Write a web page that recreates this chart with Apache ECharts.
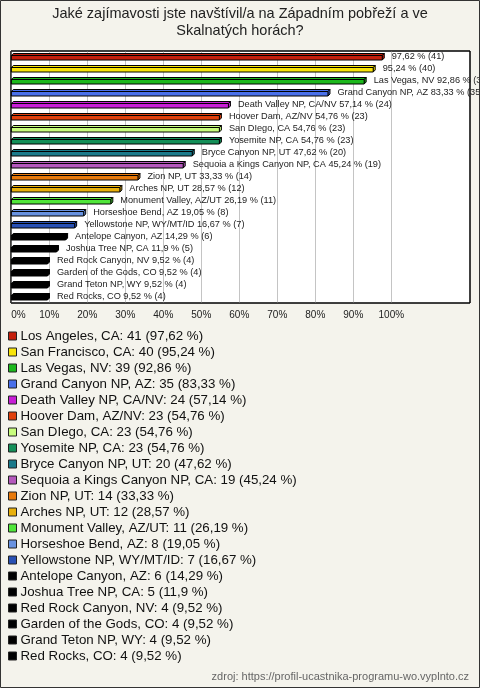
<!DOCTYPE html>
<html>
<head>
<meta charset="utf-8">
<script src="https://cdn.jsdelivr.net/npm/echarts@6/dist/echarts.min.js"></script>
<style>
html,body{margin:0;padding:0;background:#f4f3ec;}
#chart{width:480px;height:688px;}
</style>
</head>
<body>
<div id="chart"></div>
<script>
const names = [
  "Los Angeles, CA", "San Francisco, CA", "Las Vegas, NV", "Grand Canyon NP, AZ",
  "Death Valley NP, CA/NV", "Hoover Dam, AZ/NV", "San DIego, CA", "Yosemite NP, CA",
  "Bryce Canyon NP, UT", "Sequoia a Kings Canyon NP, CA", "Zion NP, UT", "Arches NP, UT",
  "Monument Valley, AZ/UT", "Horseshoe Bend, AZ", "Yellowstone NP, WY/MT/ID",
  "Antelope Canyon, AZ", "Joshua Tree NP, CA", "Red Rock Canyon, NV",
  "Garden of the Gods, CO", "Grand Teton NP, WY", "Red Rocks, CO"
];
const counts = [41, 40, 39, 35, 24, 23, 23, 23, 20, 19, 14, 12, 11, 8, 7, 6, 5, 4, 4, 4, 4];
const percents = [97.62, 95.24, 92.86, 83.33, 57.14, 54.76, 54.76, 54.76, 47.62, 45.24,
  33.33, 28.57, 26.19, 19.05, 16.67, 14.29, 11.9, 9.52, 9.52, 9.52, 9.52];
const tickValues = [0, 10, 20, 30, 40, 50, 60, 70, 80, 90, 100];
const titleText = "Jaké zajímavosti jste navštívil/a na Západním pobřeží a ve\nSkalnatých horách?";
const sourceText = "zdroj: https://profil-ucastnika-programu-wo.vyplnto.cz";

const colors = [
  "#c41f0c", "#f8e40a", "#1cb81c", "#4a70ea", "#c81ed6", "#e0400c", "#c8fc7c",
  "#148f58", "#1a7a8a", "#b458bc", "#e87a0c", "#e8b00c", "#50e63a", "#6892e0",
  "#2850b4", "#000000", "#000000", "#000000", "#000000", "#000000", "#000000"
];
const FONT = '"Liberation Sans", Arial, sans-serif';

function fmt(p) { return String(p).replace('.', ','); }

const chart = echarts.init(document.getElementById('chart'), null, {renderer: 'canvas'});

const series = names.map((n, i) => ({
  name: n + ': ' + counts[i] + ' (' + fmt(percents[i]) + ' %)',
  type: 'custom',
  itemStyle: {color: colors[i]},
  data: [[percents[i], i]],
  renderItem: function (params, api) {
    const v = api.value(0), c = api.value(1);
    const p0 = api.coord([0, c]);
    const p1 = api.coord([v, c]);
    const cy = p0[1];
    const x0 = p0[0], x1 = p1[0];
    const d = 2;
    const yT = cy - 1.5, yB = cy + 3;
    const col = api.visual('color');
    const label = (i < 2 ? '' : names[i] + ' ') + fmt(percents[i]) + ' % (' + counts[i] + ')';
    return {
      type: 'group',
      children: [
        {type: 'polygon', shape: {points: [[x0, yT], [x0 + d, yT - d], [x1 + d, yT - d], [x1, yT]]},
          style: {fill: col, stroke: '#000', lineWidth: 1}},
        {type: 'polygon', shape: {points: [[x1, yT], [x1 + d, yT - d], [x1 + d, yB - d], [x1, yB]]},
          style: {fill: col, stroke: '#000', lineWidth: 1}},
        {type: 'rect', shape: {x: x0, y: yT, width: x1 - x0, height: yB - yT},
          style: {fill: col, stroke: '#000', lineWidth: 1}},
        {type: 'text', style: {text: label, x: x1 + 9.5, y: cy - 1, verticalAlign: 'middle',
          align: 'left', font: '9.2px ' + FONT, fill: '#222'}}
      ]
    };
  }
}));

chart.setOption({
  backgroundColor: '#f4f3ec',
  animation: false,
  textStyle: {fontFamily: FONT},
  title: {
    text: titleText,
    left: 'center',
    top: 0,
    padding: [5.5, 0, 0, 0],
    textStyle: {fontSize: 14.5, fontWeight: 'normal', color: '#222', lineHeight: 17, fontFamily: FONT}
  },
  grid: {left: 11.3, right: 480 - 391.3, top: 51, bottom: 688 - 303, containLabel: false},
  xAxis: {
    type: 'value', min: tickValues[0], max: tickValues[tickValues.length - 1], interval: 10,
    axisLine: {show: false}, axisTick: {show: false},
    splitLine: {show: true, lineStyle: {color: '#c4c4c4', width: 1}},
    axisLabel: {formatter: '{value}%', fontSize: 10, color: '#222', margin: 7, fontFamily: FONT,
      alignMinLabel: 'left'}
  },
  yAxis: {
    type: 'category', data: names, inverse: true,
    axisLine: {show: false}, axisTick: {show: false}, axisLabel: {show: false}, splitLine: {show: false}
  },
  legend: {
    orient: 'vertical', left: 8, top: 328, padding: 0, itemGap: 0,
    itemWidth: 8, itemHeight: 8, icon: 'rect',
    itemStyle: {borderColor: '#222', borderWidth: 1},
    textStyle: {fontSize: 13.3, color: '#111', lineHeight: 16, fontFamily: FONT, padding: [0, 0, 0, -1]},
    selectedMode: false
  },
  graphic: [
    {type: 'rect', z: -1, shape: {x: 11, y: 51, width: 459, height: 252},
      style: {fill: '#ffffff', stroke: '#000', lineWidth: 1}},
    {type: 'rect', z: 100, shape: {x: 11, y: 51, width: 459, height: 252},
      style: {fill: null, stroke: '#000', lineWidth: 1}},
    {type: 'text', z: 100, style: {text: sourceText, x: 469, y: 677, align: 'right', verticalAlign: 'middle',
      font: '11px ' + FONT, fill: '#666'}},
    {type: 'rect', z: 100, shape: {x: 0.5, y: 0.5, width: 479, height: 687},
      style: {fill: null, stroke: '#333', lineWidth: 1}}
  ],
  series: series
});
</script>
</body>
</html>
